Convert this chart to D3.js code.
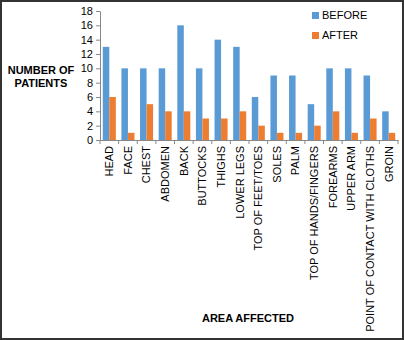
<!DOCTYPE html>
<html><head><meta charset="utf-8">
<script src="https://cdn.jsdelivr.net/npm/d3@7"></script>
<style>body{margin:0;background:#fff;}svg{display:block;font-family:"Liberation Sans",Arial,sans-serif;}</style>
</head><body>
<svg id="c" width="404" height="340"></svg>
<script>
const categories = ["HEAD","FACE","CHEST","ABDOMEN","BACK","BUTTOCKS","THIGHS","LOWER LEGS","TOP OF FEET/TOES","SOLES","PALM","TOP OF HANDS/FINGERS","FOREARMS","UPPER ARM","POINT OF CONTACT WITH CLOTHS","GROIN"];
const before = [13,10,10,10,16,10,14,13,6,9,9,5,10,10,9,4];
const after = [6,1,5,4,4,3,3,4,2,1,1,2,4,1,3,1];
const seriesNames = ["BEFORE","AFTER"];
const yTicks = [0,2,4,6,8,10,12,14,16,18];
const colors = ["#5B9BD5","#ED7D31"];

(function(){
const svg = d3.select("#c");
svg.append("rect").attr("x",1).attr("y",1).attr("width",402).attr("height",338)
  .attr("fill","#fff").attr("stroke","#333").attr("stroke-width",2);

const pl=100, pr=398, pt=11, pb=140;
const x = d3.scaleBand().domain(categories).range([pl,pr]).paddingInner(0.3).paddingOuter(0.15);
const xs = d3.scaleBand().domain(seriesNames).range([0,x.bandwidth()]);
const y = d3.scaleLinear().domain([0,18]).range([pb,pt]);

const g = svg.append("g");
categories.forEach((c,i)=>{
  [before[i],after[i]].forEach((v,j)=>{
    g.append("rect").attr("x",x(c)+xs(seriesNames[j])).attr("width",xs.bandwidth())
      .attr("y",y(v)).attr("height",y(0)-y(v)).attr("fill",colors[j]);
  });
});

const ya = svg.append("g").attr("transform",`translate(${pl},0)`)
  .call(d3.axisLeft(y).tickValues(yTicks).tickSize(4).tickSizeOuter(0));
ya.select(".domain").attr("stroke","#888");
ya.selectAll(".tick line").attr("stroke","#888");
ya.selectAll("text").attr("font-size",11).attr("fill","#000").attr("font-family","Liberation Sans, Arial, sans-serif");

const xa = svg.append("g").attr("transform",`translate(0,${pb})`)
  .call(d3.axisBottom(x).tickSize(0).tickSizeOuter(0));
xa.select(".domain").attr("stroke","#888");
xa.selectAll("text").attr("font-size",11).attr("fill","#000").attr("font-family","Liberation Sans, Arial, sans-serif")
  .attr("transform","rotate(-90)").attr("text-anchor","end").attr("dy","0.35em")
  .attr("x",-6).attr("y",0);
const bounds = d3.range(categories.length+1).map(i=>pl + i*(pr-pl)/categories.length);
xa.selectAll(".sep").data(bounds).enter().append("line")
  .attr("x1",d=>d).attr("x2",d=>d).attr("y1",0).attr("y2",4).attr("stroke","#888");

seriesNames.forEach((s,i)=>{
  svg.append("rect").attr("x",312).attr("y",12+i*20).attr("width",7).attr("height",7).attr("fill",colors[i]);
  svg.append("text").attr("x",322).attr("y",19+i*20).attr("font-size",11).text(s);
});

const yl = svg.append("text").attr("font-size",11).attr("font-weight","bold").attr("text-anchor","middle");
yl.append("tspan").attr("x",41).attr("y",74).text("NUMBER OF");
yl.append("tspan").attr("x",41).attr("y",87).text("PATIENTS");

svg.append("text").attr("x",248).attr("y",322).attr("font-size",11).attr("font-weight","bold")
  .attr("text-anchor","middle").text("AREA AFFECTED");
})();
</script>
</body></html>
